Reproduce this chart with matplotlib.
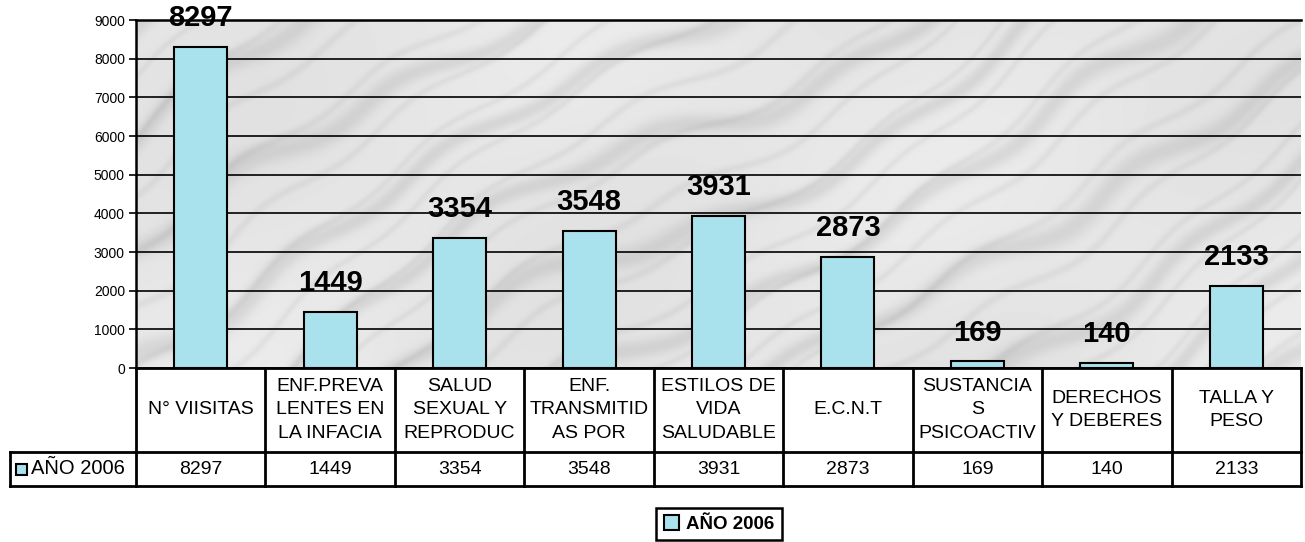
import numpy as np
import matplotlib.pyplot as plt
from matplotlib.lines import Line2D
from matplotlib.patches import Rectangle, Patch
from matplotlib import transforms

plt.rcParams['font.family'] = ['Liberation Sans', 'DejaVu Sans']

categories = ['N° VIISITAS', 'ENF.PREVA\nLENTES EN\nLA INFACIA', 'SALUD\nSEXUAL Y\nREPRODUC',
              'ENF.\nTRANSMITID\nAS POR', 'ESTILOS DE\nVIDA\nSALUDABLE', 'E.C.N.T',
              'SUSTANCIA\nS\nPSICOACTIV', 'DERECHOS\nY DEBERES', 'TALLA Y\nPESO']
values = [8297, 1449, 3354, 3548, 3931, 2873, 169, 140, 2133]
series_name = 'AÑO 2006'
yticks = list(range(0, 10000, 1000))

bar_color = '#a9e2ec'
W, H = 1305, 542


def marble():
    # soft grey streaky background (decorative only)
    xx, yy = np.meshgrid(np.linspace(0, 3.35, 700), np.linspace(0, 1, 220))
    turb = (np.sin(xx * 5.1 + yy * 3.3) * 0.5 + np.sin(xx * 9.7 - yy * 6.1 + 1.3) * 0.3
            + np.sin(xx * 2.3 - yy * 1.7 + 0.4) * 0.7)
    s = np.sin((xx * 4 + yy * 7 + turb * 0.6) * np.pi)
    s2 = np.sin((xx * 9 + yy * 13 + turb * 0.9) * np.pi)
    blot = 0.5 + 0.5 * np.sin(xx * 3.1 + 0.7) * np.sin(yy * 4.3 + xx * 1.2)
    g = 0.92 - 0.07 * np.clip(s, 0, 1) ** 4 - 0.04 * np.clip(s2, 0, 1) ** 8 - 0.04 * blot
    return g


def main():
    fig = plt.figure(figsize=(W / 100, H / 100), dpi=100)
    ax = fig.add_axes([136 / W, 1 - 368 / H, 1165 / W, 348 / H])

    ax.imshow(marble(), cmap='gray', vmin=0, vmax=1, extent=(0, 1, 0, 1), transform=ax.transAxes,
              aspect='auto', zorder=0, interpolation='bilinear')

    x = list(range(len(values)))
    ax.bar(x, values, width=0.41, color=bar_color, edgecolor='black', linewidth=1.5, zorder=3)

    for xi, v in zip(x, values):
        ax.annotate(str(v), (xi, v), xytext=(0, 15), textcoords='offset points',
                    ha='center', va='baseline', fontsize=21, fontweight='bold', zorder=5)

    ax.set_xlim(-0.5, len(values) - 0.5)
    ax.set_ylim(0, 9000)
    ax.set_yticks(yticks)
    ax.set_yticklabels([str(t) for t in yticks], fontsize=10)
    ax.set_xticks([])
    ax.tick_params(axis='y', length=5, width=1.2, direction='out', pad=3)
    ax.yaxis.grid(True, color='black', linewidth=1.2, zorder=1)
    ax.set_axisbelow(True)
    for s in ['right', 'bottom']:
        ax.spines[s].set_visible(False)
    ax.spines['left'].set_linewidth(1.8)
    ax.spines['top'].set_linewidth(1.8)

    # data table under the chart
    blend = transforms.blended_transform_factory(ax.transData, ax.transAxes)
    ax_h = 348
    y_top = 0
    y_mid = -(452 - 368) / ax_h
    y_bot = -(486 - 368) / ax_h
    x_left = ax.transData.inverted().transform(fig.transFigure.transform((10 / W, 0)))[0]
    x_right = len(values) - 0.5
    kw = dict(transform=blend, color='black', linewidth=2, clip_on=False, solid_capstyle='projecting')

    ax.add_line(Line2D([-0.5, x_right], [y_top, y_top], **kw))
    ax.add_line(Line2D([x_left, x_right], [y_mid, y_mid], **kw))
    ax.add_line(Line2D([x_left, x_right], [y_bot, y_bot], **kw))
    ax.add_line(Line2D([x_left, x_left], [y_mid, y_bot], **kw))
    for i in range(len(values) + 1):
        ax.add_line(Line2D([i - 0.5, i - 0.5], [y_top, y_bot], **kw))

    for xi, lab, v in zip(x, categories, values):
        ax.text(xi, (y_top + y_mid) / 2, lab, transform=blend, ha='center', va='center',
                fontsize=14, linespacing=1.5, clip_on=False)
        ax.text(xi, (y_mid + y_bot) / 2, str(v), transform=blend, ha='center', va='center',
                fontsize=14, clip_on=False)

    # legend key in the table row label
    fig.patches.append(Rectangle((16 / W, 1 - 475 / H), 11 / W, 11 / H, transform=fig.transFigure,
                                 facecolor=bar_color, edgecolor='black', linewidth=1.5))
    fig.text(31 / W, 1 - 469 / H, series_name, ha='left', va='center', fontsize=14.5)

    leg = fig.legend(handles=[Patch(facecolor=bar_color, edgecolor='black', linewidth=1.5, label=series_name)],
                     loc='center', bbox_to_anchor=(719 / W, 1 - 524 / H), frameon=True, fancybox=False,
                     edgecolor='black', framealpha=1, handlelength=0.8, handleheight=0.8,
                     handletextpad=0.4, borderpad=0.4, prop={'weight': 'bold', 'size': 13.5})
    leg.get_frame().set_linewidth(1.8)

    fig.savefig('out.png', dpi=100)


if __name__ == '__main__':
    main()
